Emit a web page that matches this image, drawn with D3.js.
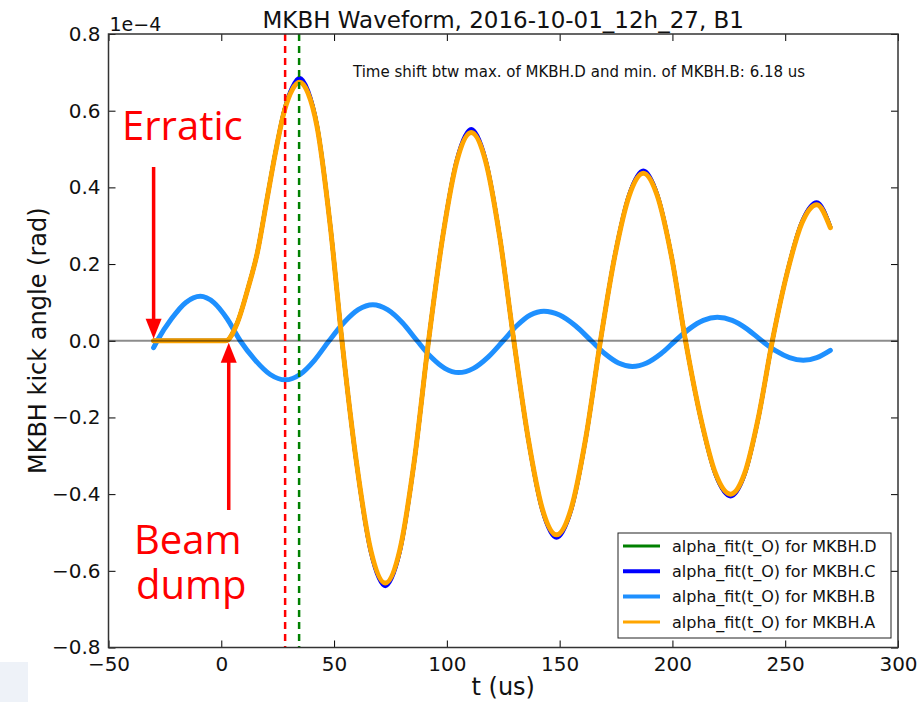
<!DOCTYPE html>
<html>
<head>
<meta charset="utf-8">
<script src="https://cdnjs.cloudflare.com/ajax/libs/d3/7.8.5/d3.min.js"></script>
<style>
body { margin: 0; background: #fff; }
svg { display: block; font-family: "DejaVu Sans", sans-serif; }
</style>
</head>
<body>
<svg></svg>
<script>
// kick angle in units of 1e-4 rad, time in us
var tFit = [-30, -10, 2, 7, 12, 16, 20, 24, 28, 31.5, 34.7, 38.5, 42.4, 48.3, 53.5, 59.9, 66.3, 72.7, 79.1, 85.5, 91.9,
            98.2, 104.5, 110.8, 117.1, 123.4, 129.7, 136.0, 142.3, 148.6, 155.1, 161.6, 168.1, 174.4, 180.8, 187.1,
            193.3, 199.6, 205.8, 212.5, 219.1, 225.8, 232.0, 238.1, 244.3, 250.9, 257.4, 264, 270];
var vD = [0, 0, 0, 0.046, 0.141, 0.231, 0.362, 0.492, 0.603, 0.659, 0.679, 0.648, 0.563, 0.302, 0, -0.317, -0.549, -0.635, -0.549, -0.317, 0,
          0.273, 0.472, 0.546, 0.472, 0.273, 0, -0.254, -0.44, -0.509, -0.44, -0.254, 0, 0.22, 0.38, 0.44,
          0.38, 0.22, 0, -0.201, -0.348, -0.403, -0.348, -0.201, 0, 0.179, 0.309, 0.358, 0.297];
var vC = [0, 0, 0, 0.045, 0.14, 0.23, 0.36, 0.49, 0.602, 0.662, 0.686, 0.652, 0.562, 0.30, 0, -0.317, -0.552, -0.640, -0.552, -0.317, 0,
          0.273, 0.474, 0.552, 0.474, 0.273, 0, -0.254, -0.442, -0.514, -0.442, -0.254, 0, 0.22, 0.381, 0.444,
          0.381, 0.22, 0, -0.201, -0.349, -0.406, -0.349, -0.201, 0, 0.179, 0.31, 0.361, 0.297];
var vA = [0, 0, 0, 0.045, 0.14, 0.23, 0.36, 0.49, 0.60, 0.655, 0.674, 0.645, 0.56, 0.30, 0, -0.316, -0.547, -0.632, -0.547, -0.316, 0,
          0.272, 0.470, 0.543, 0.470, 0.272, 0, -0.253, -0.438, -0.506, -0.438, -0.253, 0, 0.219, 0.378, 0.437,
          0.378, 0.219, 0, -0.200, -0.346, -0.400, -0.346, -0.200, 0, 0.178, 0.307, 0.355, 0.295];
var tB = [-30, -28.4, -22.0, -15.7, -9.3, -3.4, 2.5, 8.4, 15.1, 21.7, 28.4, 34.9, 41.3, 47.8, 54.3, 60.7, 67.2, 73.7, 80.3, 86.8,
          92.9, 99.1, 105.2, 111.8, 118.4, 125, 131, 137, 143, 150, 157, 164, 170.1, 176.1, 182.2, 188.6, 194.9, 201.3,
          207.5, 213.7, 219.9, 226.5, 233.0, 239.6, 245.7, 251.9, 258, 264, 270];
var vB = [-0.018, 0, 0.058, 0.100, 0.116, 0.100, 0.058, 0, -0.051, -0.088, -0.102, -0.088, -0.051, 0, 0.047, 0.081, 0.094, 0.081, 0.047, 0,
          -0.042, -0.072, -0.083, -0.072, -0.042, 0, 0.039, 0.067, 0.077, 0.067, 0.039, 0, -0.034, -0.058, -0.067, -0.058, -0.034, 0,
          0.031, 0.053, 0.061, 0.053, 0.031, 0, -0.026, -0.044, -0.051, -0.044, -0.025];
var xTicks = [-50, 0, 50, 100, 150, 200, 250, 300];
var yTicks = [-0.8, -0.6, -0.4, -0.2, 0, 0.2, 0.4, 0.6, 0.8];
var markerT = [28.3, 34.5];   // min of MKBH.B, max of MKBH.D
var markerColors = ["red", "green"];
var seriesNames = ["alpha_fit(t_O) for MKBH.D", "alpha_fit(t_O) for MKBH.C", "alpha_fit(t_O) for MKBH.B", "alpha_fit(t_O) for MKBH.A"];
var seriesColors = ["green", "blue", "dodgerblue", "orange"];
var seriesWidths = [4, 4, 5, 5];
var keyWidths = [3, 4, 4, 3];

var drawChart = function()
{
  var width = 924;
  var height = 702;
  var pl = 108.5, pr = 898, pt = 34, pb = 647.5;

  var svg = d3.select("svg")
              .attr("width", width)
              .attr("height", height);

  svg.append("rect")
     .attr("x", 0).attr("y", 662).attr("width", 28).attr("height", 40)
     .attr("fill", "#eef2f8");

  var x = d3.scaleLinear().domain([-50, 300]).range([pl, pr]);
  var y = d3.scaleLinear().domain([-0.8, 0.8]).range([pb, pt]);

  svg.append("clipPath").attr("id", "plot")
     .append("rect")
     .attr("x", pl).attr("y", pt)
     .attr("width", pr - pl).attr("height", pb - pt);

  var line = d3.line()
               .x(function(d) { return x(d[0]); })
               .y(function(d) { return y(d[1]); })
               .curve(d3.curveMonotoneX);

  var series = [d3.zip(tFit, vD), d3.zip(tFit, vC), d3.zip(tB, vB), d3.zip(tFit, vA)];

  var g = svg.append("g").attr("clip-path", "url(#plot)");

  g.selectAll("path.curve")
   .data(series)
   .enter()
   .append("path")
   .attr("class", "curve")
   .attr("d", line)
   .attr("fill", "none")
   .attr("stroke", function(d, i) { return seriesColors[i]; })
   .attr("stroke-width", function(d, i) { return seriesWidths[i]; })
   .attr("stroke-linejoin", "round")
   .attr("stroke-linecap", "round");

  // zero line
  g.append("line")
   .attr("x1", pl).attr("x2", pr)
   .attr("y1", y(0)).attr("y2", y(0))
   .attr("stroke", "black")
   .attr("stroke-opacity", 0.45)
   .attr("stroke-width", 2);

  g.selectAll("line.marker")
   .data(markerT)
   .enter()
   .append("line")
   .attr("class", "marker")
   .attr("x1", function(d) { return x(d); })
   .attr("x2", function(d) { return x(d); })
   .attr("y1", pt).attr("y2", pb)
   .attr("stroke", function(d, i) { return markerColors[i]; })
   .attr("stroke-width", 2.5)
   .attr("stroke-dasharray", "7,5");

  // axes, ticks pointing inward on all four sides
  var fmtY = d3.format(".1f");
  svg.append("g")
     .attr("transform", "translate(0," + pb + ")")
     .call(d3.axisBottom(x).tickValues(xTicks).tickSizeInner(-7).tickSizeOuter(0).tickPadding(9))
     .call(function(a) {
       a.select(".domain").remove();
       a.selectAll("text").attr("font-size", 20).attr("font-family", "DejaVu Sans").attr("fill", "#111");
     });
  svg.append("g")
     .attr("transform", "translate(0," + pt + ")")
     .call(d3.axisTop(x).tickValues(xTicks).tickSizeInner(-7).tickSizeOuter(0).tickFormat(""))
     .call(function(a) { a.select(".domain").remove(); });
  svg.append("g")
     .attr("transform", "translate(" + pl + ",0)")
     .call(d3.axisLeft(y).tickValues(yTicks).tickSizeInner(-7).tickSizeOuter(0).tickPadding(8).tickFormat(fmtY))
     .call(function(a) {
       a.select(".domain").remove();
       a.selectAll("text").attr("font-size", 20).attr("font-family", "DejaVu Sans").attr("fill", "#111");
     });
  svg.append("g")
     .attr("transform", "translate(" + pr + ",0)")
     .call(d3.axisRight(y).tickValues(yTicks).tickSizeInner(-7).tickSizeOuter(0).tickFormat(""))
     .call(function(a) { a.select(".domain").remove(); });

  svg.append("rect")
     .attr("x", pl).attr("y", pt)
     .attr("width", pr - pl).attr("height", pb - pt)
     .attr("fill", "none")
     .attr("stroke", "#333")
     .attr("stroke-width", 1.5);

  svg.append("text")
     .text("1e\u22124")
     .attr("x", pl + 1).attr("y", 31)
     .attr("font-size", 19).attr("fill", "#111");

  svg.append("text")
     .text("MKBH Waveform, 2016-10-01_12h_27, B1")
     .attr("x", (pl + pr) / 2).attr("y", 28)
     .attr("text-anchor", "middle")
     .attr("font-size", 23).attr("fill", "#111");

  svg.append("text")
     .text("Time shift btw max. of MKBH.D and min. of MKBH.B: 6.18 us")
     .attr("x", 353).attr("y", 77)
     .attr("font-size", 15).attr("fill", "#111");

  svg.append("text")
     .text("t (us)")
     .attr("x", (pl + pr) / 2).attr("y", 695)
     .attr("text-anchor", "middle")
     .attr("font-size", 24).attr("fill", "#111");

  svg.append("text")
     .text("MKBH kick angle (rad)")
     .attr("transform", "translate(46," + (pt + pb) / 2 + ") rotate(-90)")
     .attr("text-anchor", "middle")
     .attr("font-size", 24).attr("fill", "#111");

  // legend
  var lg = svg.append("g");
  lg.append("rect")
    .attr("x", 618).attr("y", 533).attr("width", 273).attr("height", 105)
    .attr("fill", "white").attr("stroke", "#222").attr("stroke-width", 1);
  lg.selectAll("line.key")
    .data(seriesNames)
    .enter()
    .append("line")
    .attr("class", "key")
    .attr("x1", 623).attr("x2", 660)
    .attr("y1", function(d, i) { return 546 + i * 25.3; })
    .attr("y2", function(d, i) { return 546 + i * 25.3; })
    .attr("stroke", function(d, i) { return seriesColors[i]; })
    .attr("stroke-width", function(d, i) { return keyWidths[i]; });
  lg.selectAll("text.key")
    .data(seriesNames)
    .enter()
    .append("text")
    .attr("class", "key")
    .text(function(d) { return d; })
    .attr("x", 672)
    .attr("y", function(d, i) { return 546 + i * 25.3; })
    .attr("dy", "0.35em")
    .attr("font-size", 16).attr("fill", "#111");

  // annotations
  var ann = svg.append("g").attr("fill", "red").attr("font-family", "'Open Sans', sans-serif").attr("font-size", 40);
  ann.append("text").text("Erratic").attr("x", 122).attr("y", 140);
  ann.append("text").text("Beam").attr("x", 134).attr("y", 554);
  ann.append("text").text("dump").attr("x", 136).attr("y", 599);

  var arrows = [{x: x(-30), from: 167, to: y(0) - 2}, {x: x(3.3), from: 510, to: y(0) + 2}];
  arrows.forEach(function(a) {
    var dir = a.to > a.from ? 1 : -1;
    svg.append("line")
       .attr("x1", a.x).attr("x2", a.x)
       .attr("y1", a.from).attr("y2", a.to - dir * 18)
       .attr("stroke", "red").attr("stroke-width", 3.5);
    svg.append("path")
       .attr("d", "M" + a.x + "," + a.to + "L" + (a.x - 8) + "," + (a.to - dir * 20) + "L" + (a.x + 8) + "," + (a.to - dir * 20) + "Z")
       .attr("fill", "red");
  });
}

drawChart();
</script>
</body>
</html>
